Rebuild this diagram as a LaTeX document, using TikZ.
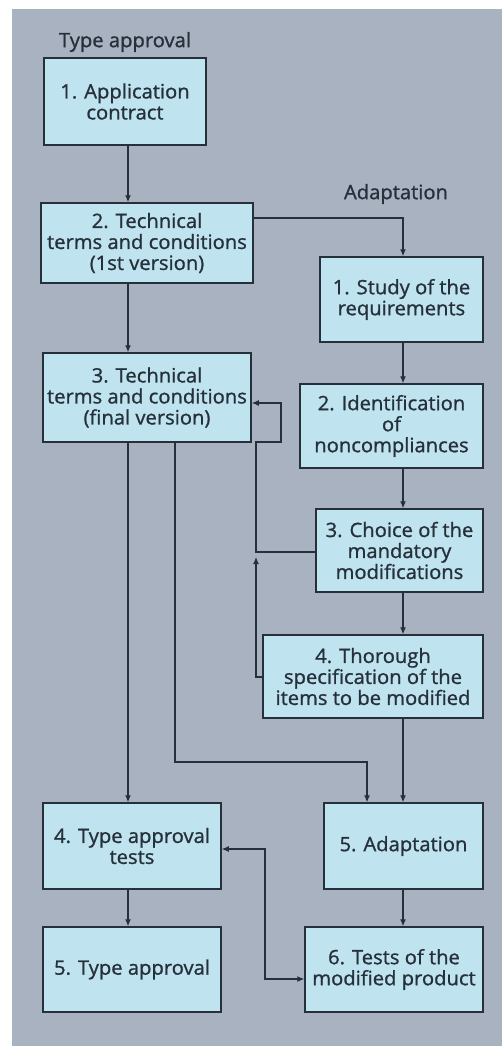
\documentclass[tikz,border=0pt]{standalone}
\usepackage{fontspec}
\setmainfont{Open Sans}[FakeBold=1.1, FakeStretch=1.02]
\usetikzlibrary{arrows.meta}
\definecolor{panel}{HTML}{A8B2C1}
\definecolor{boxfill}{HTML}{BFE4EF}
\definecolor{ink}{HTML}{26303A}
\tikzset{ftip/.tip={Latex[length=7pt,width=6pt]}}
\begin{document}
\begin{tikzpicture}[x=1pt,y=1pt,
  stage/.style={draw=ink, line width=1.5pt, fill=boxfill, align=center,
    inner sep=0pt, font=\fontsize{19.8}{21}\selectfont, text=ink},
  flow/.style={draw=ink, line width=1.1pt, -ftip},
  twoway/.style={draw=ink, line width=1.1pt, ftip-ftip},
  heading/.style={font=\fontsize{19.8}{21}\selectfont, text=ink}
]
% page and grey panel
\fill[white] (0,0) rectangle (502,-1046);
\useasboundingbox (0,0) rectangle (502,-1046);
\fill[panel] (12,-9) rectangle (502,-1046);

% headings
\node[heading] (hType) at (125,-42) {Type approval};
\node[heading] (hAdapt) at (396,-194) {Adaptation};

% type approval column
\node[stage, minimum width=162, minimum height=87] (a1) at (125,-101.5) {1. Application\\contract};
\node[stage, minimum width=212, minimum height=80] (a2) at (147,-243) {2. Technical\\terms and conditions\\(1st version)};
\node[stage, minimum width=208, minimum height=89] (a3) at (147,-397.5) {3. Technical\\terms and conditions\\(final version)};
\node[stage, minimum width=178, minimum height=86] (a4) at (132,-846) {4. Type approval\\tests};
\node[stage, minimum width=178, minimum height=85] (a5) at (132,-969.5) {5. Type approval};

% adaptation column
\node[stage, minimum width=163, minimum height=85] (b1) at (401.5,-299.5) {1. Study of the\\requirements};
\node[stage, minimum width=183, minimum height=84] (b2) at (391.5,-426) {2. Identification\\of\\noncompliances};
\node[stage, minimum width=167, minimum height=83] (b3) at (399.5,-550.5) {3. Choice of the\\mandatory\\modifications};
\node[stage, minimum width=220, minimum height=83] (b4) at (373,-676.5) {4. Thorough\\specification of the\\items to be modified};
\node[stage, minimum width=159, minimum height=86] (b5) at (403.5,-846) {5. Adaptation};
\node[stage, minimum width=178, minimum height=85] (b6) at (394,-969.5) {6. Tests of the\\modified product};

% routing guides
\coordinate (colA) at (128,0);
\coordinate (colB) at (403,0);
\coordinate (colC) at (175,0);
\coordinate (colD) at (367,0);
\coordinate (colE) at (256,0);
\coordinate (colF) at (281,0);
\coordinate (colG) at (265,0);
\coordinate (rowT) at (0,-218);
\coordinate (rowM) at (0,-762);
\coordinate (rowF) at (0,-552);
\coordinate (rowG) at (0,-442);
\coordinate (rowH) at (0,-403);
\coordinate (rowI) at (0,-677);
\coordinate (rowJ) at (0,-849);
\coordinate (rowK) at (0,-979);
\coordinate (tipUp) at (256,-557);

% main flow, left column
\draw[flow] (a1.south -| colA) -- (a2.north -| colA);
\draw[flow] (a2.south -| colA) -- (a3.north -| colA);
\draw[flow] (a3.south -| colA) -- (a4.north -| colA);
\draw[flow] (a4.south -| colA) -- (a5.north -| colA);

% main flow, right column
\draw[flow] (a2.east |- rowT) -| (b1.north -| colB);
\draw[flow] (b1.south -| colB) -- (b2.north -| colB);
\draw[flow] (b2.south -| colB) -- (b3.north -| colB);
\draw[flow] (b3.south -| colB) -- (b4.north -| colB);
\draw[flow] (b4.south -| colB) -- (b5.north -| colB);
\draw[flow] (b5.south -| colB) -- (b6.north -| colB);

% cross links
\draw[flow] (a3.south -| colC) -- (colC |- rowM) -| (b5.north -| colD);
\draw[flow] (b3.west |- rowF) -| (colE |- rowG) -| (colF |- rowH) -- (a3.east |- rowH);
\draw[flow] (b4.west |- rowI) -| (tipUp);
\draw[twoway] (a4.east |- rowJ) -| (colG |- rowK) -- (b6.west |- rowK);
\end{tikzpicture}
\end{document}
